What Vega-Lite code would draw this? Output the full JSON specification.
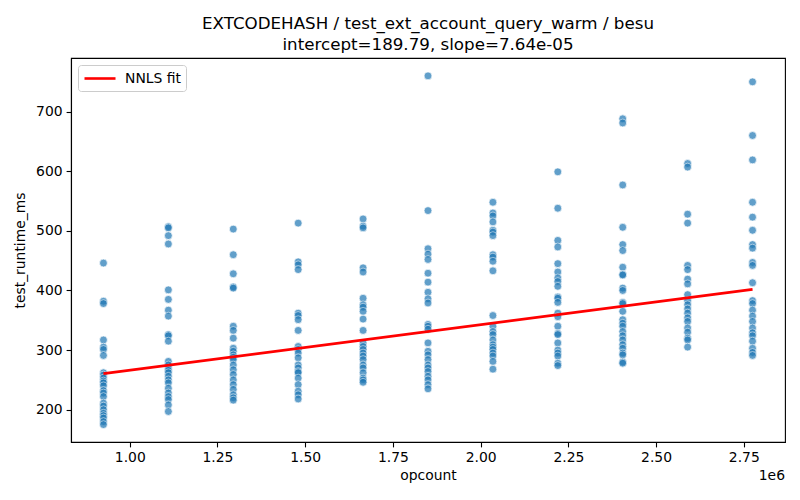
{
  "$schema": "https://vega.github.io/schema/vega-lite/v6.json",
  "description": "EXTCODEHASH runtime against opcount for besu, with the NNLS fit line.",
  "autosize": "none",
  "width": 714,
  "height": 384,
  "padding": {"left": 71, "top": 58, "right": 15, "bottom": 58},
  "background": "white",
  "config": {
    "font": "DejaVu Sans",
    "view": {"stroke": "black", "strokeWidth": 1.1},
    "axis": {
      "grid": false,
      "domainColor": "black",
      "domainWidth": 1.1,
      "tickColor": "black",
      "tickWidth": 1.1,
      "tickSize": 4.9,
      "labelFont": "DejaVu Sans",
      "labelFontSize": 13.9,
      "labelColor": "black",
      "labelPadding": 4,
      "titleFont": "DejaVu Sans",
      "titleFontSize": 13.9,
      "titleFontWeight": "normal",
      "titleColor": "black"
    }
  },
  "title": {
    "text": ["EXTCODEHASH / test_ext_account_query_warm / besu", "intercept=189.79, slope=7.64e-05"],
    "font": "DejaVu Sans",
    "fontSize": 16.7,
    "fontWeight": "normal",
    "color": "black",
    "lineHeight": 21,
    "anchor": "middle",
    "offset": 4
  },
  "datasets": {
    "runs": [
      {"opcount": 925000, "test_runtime_ms": 446}, {"opcount": 925000, "test_runtime_ms": 382}, {"opcount": 925000, "test_runtime_ms": 378},
      {"opcount": 925000, "test_runtime_ms": 317}, {"opcount": 925000, "test_runtime_ms": 305}, {"opcount": 925000, "test_runtime_ms": 301},
      {"opcount": 925000, "test_runtime_ms": 291}, {"opcount": 925000, "test_runtime_ms": 262}, {"opcount": 925000, "test_runtime_ms": 258},
      {"opcount": 925000, "test_runtime_ms": 253}, {"opcount": 925000, "test_runtime_ms": 248}, {"opcount": 925000, "test_runtime_ms": 245},
      {"opcount": 925000, "test_runtime_ms": 240}, {"opcount": 925000, "test_runtime_ms": 232}, {"opcount": 925000, "test_runtime_ms": 228},
      {"opcount": 925000, "test_runtime_ms": 222}, {"opcount": 925000, "test_runtime_ms": 211}, {"opcount": 925000, "test_runtime_ms": 206},
      {"opcount": 925000, "test_runtime_ms": 200}, {"opcount": 925000, "test_runtime_ms": 194}, {"opcount": 925000, "test_runtime_ms": 190},
      {"opcount": 925000, "test_runtime_ms": 186}, {"opcount": 925000, "test_runtime_ms": 180}, {"opcount": 925000, "test_runtime_ms": 175},

      {"opcount": 1110000, "test_runtime_ms": 507}, {"opcount": 1110000, "test_runtime_ms": 505}, {"opcount": 1110000, "test_runtime_ms": 492},
      {"opcount": 1110000, "test_runtime_ms": 478}, {"opcount": 1110000, "test_runtime_ms": 401}, {"opcount": 1110000, "test_runtime_ms": 385},
      {"opcount": 1110000, "test_runtime_ms": 367}, {"opcount": 1110000, "test_runtime_ms": 357}, {"opcount": 1110000, "test_runtime_ms": 326},
      {"opcount": 1110000, "test_runtime_ms": 324}, {"opcount": 1110000, "test_runtime_ms": 315}, {"opcount": 1110000, "test_runtime_ms": 281},
      {"opcount": 1110000, "test_runtime_ms": 275}, {"opcount": 1110000, "test_runtime_ms": 270}, {"opcount": 1110000, "test_runtime_ms": 266},
      {"opcount": 1110000, "test_runtime_ms": 262}, {"opcount": 1110000, "test_runtime_ms": 256}, {"opcount": 1110000, "test_runtime_ms": 250},
      {"opcount": 1110000, "test_runtime_ms": 245}, {"opcount": 1110000, "test_runtime_ms": 236}, {"opcount": 1110000, "test_runtime_ms": 228},
      {"opcount": 1110000, "test_runtime_ms": 222}, {"opcount": 1110000, "test_runtime_ms": 217}, {"opcount": 1110000, "test_runtime_ms": 208},
      {"opcount": 1110000, "test_runtime_ms": 197},

      {"opcount": 1295000, "test_runtime_ms": 503}, {"opcount": 1295000, "test_runtime_ms": 460}, {"opcount": 1295000, "test_runtime_ms": 428},
      {"opcount": 1295000, "test_runtime_ms": 406}, {"opcount": 1295000, "test_runtime_ms": 404}, {"opcount": 1295000, "test_runtime_ms": 340},
      {"opcount": 1295000, "test_runtime_ms": 333}, {"opcount": 1295000, "test_runtime_ms": 320}, {"opcount": 1295000, "test_runtime_ms": 303},
      {"opcount": 1295000, "test_runtime_ms": 298}, {"opcount": 1295000, "test_runtime_ms": 292}, {"opcount": 1295000, "test_runtime_ms": 288},
      {"opcount": 1295000, "test_runtime_ms": 284}, {"opcount": 1295000, "test_runtime_ms": 275}, {"opcount": 1295000, "test_runtime_ms": 267},
      {"opcount": 1295000, "test_runtime_ms": 259}, {"opcount": 1295000, "test_runtime_ms": 250}, {"opcount": 1295000, "test_runtime_ms": 242},
      {"opcount": 1295000, "test_runtime_ms": 234}, {"opcount": 1295000, "test_runtime_ms": 225}, {"opcount": 1295000, "test_runtime_ms": 220},
      {"opcount": 1295000, "test_runtime_ms": 216},

      {"opcount": 1480000, "test_runtime_ms": 513}, {"opcount": 1480000, "test_runtime_ms": 448}, {"opcount": 1480000, "test_runtime_ms": 443},
      {"opcount": 1480000, "test_runtime_ms": 435}, {"opcount": 1480000, "test_runtime_ms": 362}, {"opcount": 1480000, "test_runtime_ms": 358},
      {"opcount": 1480000, "test_runtime_ms": 351}, {"opcount": 1480000, "test_runtime_ms": 333}, {"opcount": 1480000, "test_runtime_ms": 306},
      {"opcount": 1480000, "test_runtime_ms": 301}, {"opcount": 1480000, "test_runtime_ms": 295}, {"opcount": 1480000, "test_runtime_ms": 287},
      {"opcount": 1480000, "test_runtime_ms": 275}, {"opcount": 1480000, "test_runtime_ms": 270}, {"opcount": 1480000, "test_runtime_ms": 264},
      {"opcount": 1480000, "test_runtime_ms": 262}, {"opcount": 1480000, "test_runtime_ms": 253}, {"opcount": 1480000, "test_runtime_ms": 242},
      {"opcount": 1480000, "test_runtime_ms": 231}, {"opcount": 1480000, "test_runtime_ms": 225}, {"opcount": 1480000, "test_runtime_ms": 218},

      {"opcount": 1665000, "test_runtime_ms": 520}, {"opcount": 1665000, "test_runtime_ms": 508}, {"opcount": 1665000, "test_runtime_ms": 505},
      {"opcount": 1665000, "test_runtime_ms": 438}, {"opcount": 1665000, "test_runtime_ms": 431}, {"opcount": 1665000, "test_runtime_ms": 387},
      {"opcount": 1665000, "test_runtime_ms": 376}, {"opcount": 1665000, "test_runtime_ms": 372}, {"opcount": 1665000, "test_runtime_ms": 365},
      {"opcount": 1665000, "test_runtime_ms": 352}, {"opcount": 1665000, "test_runtime_ms": 333}, {"opcount": 1665000, "test_runtime_ms": 312},
      {"opcount": 1665000, "test_runtime_ms": 306}, {"opcount": 1665000, "test_runtime_ms": 301}, {"opcount": 1665000, "test_runtime_ms": 295},
      {"opcount": 1665000, "test_runtime_ms": 290}, {"opcount": 1665000, "test_runtime_ms": 284}, {"opcount": 1665000, "test_runtime_ms": 275},
      {"opcount": 1665000, "test_runtime_ms": 270}, {"opcount": 1665000, "test_runtime_ms": 262}, {"opcount": 1665000, "test_runtime_ms": 253},
      {"opcount": 1665000, "test_runtime_ms": 250}, {"opcount": 1665000, "test_runtime_ms": 246},

      {"opcount": 1850000, "test_runtime_ms": 760}, {"opcount": 1850000, "test_runtime_ms": 534}, {"opcount": 1850000, "test_runtime_ms": 470},
      {"opcount": 1850000, "test_runtime_ms": 461}, {"opcount": 1850000, "test_runtime_ms": 452}, {"opcount": 1850000, "test_runtime_ms": 429},
      {"opcount": 1850000, "test_runtime_ms": 414}, {"opcount": 1850000, "test_runtime_ms": 397}, {"opcount": 1850000, "test_runtime_ms": 386},
      {"opcount": 1850000, "test_runtime_ms": 379}, {"opcount": 1850000, "test_runtime_ms": 343}, {"opcount": 1850000, "test_runtime_ms": 340},
      {"opcount": 1850000, "test_runtime_ms": 335}, {"opcount": 1850000, "test_runtime_ms": 312}, {"opcount": 1850000, "test_runtime_ms": 298},
      {"opcount": 1850000, "test_runtime_ms": 292}, {"opcount": 1850000, "test_runtime_ms": 284}, {"opcount": 1850000, "test_runtime_ms": 275},
      {"opcount": 1850000, "test_runtime_ms": 270}, {"opcount": 1850000, "test_runtime_ms": 264}, {"opcount": 1850000, "test_runtime_ms": 256},
      {"opcount": 1850000, "test_runtime_ms": 250}, {"opcount": 1850000, "test_runtime_ms": 242}, {"opcount": 1850000, "test_runtime_ms": 235},

      {"opcount": 2035000, "test_runtime_ms": 548}, {"opcount": 2035000, "test_runtime_ms": 530}, {"opcount": 2035000, "test_runtime_ms": 525},
      {"opcount": 2035000, "test_runtime_ms": 515}, {"opcount": 2035000, "test_runtime_ms": 501}, {"opcount": 2035000, "test_runtime_ms": 498},
      {"opcount": 2035000, "test_runtime_ms": 492}, {"opcount": 2035000, "test_runtime_ms": 460}, {"opcount": 2035000, "test_runtime_ms": 456},
      {"opcount": 2035000, "test_runtime_ms": 449}, {"opcount": 2035000, "test_runtime_ms": 433}, {"opcount": 2035000, "test_runtime_ms": 358},
      {"opcount": 2035000, "test_runtime_ms": 340}, {"opcount": 2035000, "test_runtime_ms": 331}, {"opcount": 2035000, "test_runtime_ms": 326},
      {"opcount": 2035000, "test_runtime_ms": 317}, {"opcount": 2035000, "test_runtime_ms": 309}, {"opcount": 2035000, "test_runtime_ms": 305},
      {"opcount": 2035000, "test_runtime_ms": 301}, {"opcount": 2035000, "test_runtime_ms": 295}, {"opcount": 2035000, "test_runtime_ms": 290},
      {"opcount": 2035000, "test_runtime_ms": 281}, {"opcount": 2035000, "test_runtime_ms": 268},

      {"opcount": 2220000, "test_runtime_ms": 599}, {"opcount": 2220000, "test_runtime_ms": 538}, {"opcount": 2220000, "test_runtime_ms": 484},
      {"opcount": 2220000, "test_runtime_ms": 473}, {"opcount": 2220000, "test_runtime_ms": 445}, {"opcount": 2220000, "test_runtime_ms": 431},
      {"opcount": 2220000, "test_runtime_ms": 421}, {"opcount": 2220000, "test_runtime_ms": 415}, {"opcount": 2220000, "test_runtime_ms": 407},
      {"opcount": 2220000, "test_runtime_ms": 389}, {"opcount": 2220000, "test_runtime_ms": 387}, {"opcount": 2220000, "test_runtime_ms": 380},
      {"opcount": 2220000, "test_runtime_ms": 362}, {"opcount": 2220000, "test_runtime_ms": 356}, {"opcount": 2220000, "test_runtime_ms": 340},
      {"opcount": 2220000, "test_runtime_ms": 328}, {"opcount": 2220000, "test_runtime_ms": 326}, {"opcount": 2220000, "test_runtime_ms": 312},
      {"opcount": 2220000, "test_runtime_ms": 300}, {"opcount": 2220000, "test_runtime_ms": 295}, {"opcount": 2220000, "test_runtime_ms": 290},
      {"opcount": 2220000, "test_runtime_ms": 278}, {"opcount": 2220000, "test_runtime_ms": 274},

      {"opcount": 2405000, "test_runtime_ms": 688}, {"opcount": 2405000, "test_runtime_ms": 681}, {"opcount": 2405000, "test_runtime_ms": 577},
      {"opcount": 2405000, "test_runtime_ms": 506}, {"opcount": 2405000, "test_runtime_ms": 477}, {"opcount": 2405000, "test_runtime_ms": 467},
      {"opcount": 2405000, "test_runtime_ms": 439}, {"opcount": 2405000, "test_runtime_ms": 427}, {"opcount": 2405000, "test_runtime_ms": 426},
      {"opcount": 2405000, "test_runtime_ms": 404}, {"opcount": 2405000, "test_runtime_ms": 400}, {"opcount": 2405000, "test_runtime_ms": 380},
      {"opcount": 2405000, "test_runtime_ms": 378}, {"opcount": 2405000, "test_runtime_ms": 365}, {"opcount": 2405000, "test_runtime_ms": 351},
      {"opcount": 2405000, "test_runtime_ms": 345}, {"opcount": 2405000, "test_runtime_ms": 340}, {"opcount": 2405000, "test_runtime_ms": 331},
      {"opcount": 2405000, "test_runtime_ms": 324}, {"opcount": 2405000, "test_runtime_ms": 317}, {"opcount": 2405000, "test_runtime_ms": 309},
      {"opcount": 2405000, "test_runtime_ms": 303}, {"opcount": 2405000, "test_runtime_ms": 295}, {"opcount": 2405000, "test_runtime_ms": 292},
      {"opcount": 2405000, "test_runtime_ms": 280}, {"opcount": 2405000, "test_runtime_ms": 278},

      {"opcount": 2590000, "test_runtime_ms": 613}, {"opcount": 2590000, "test_runtime_ms": 607}, {"opcount": 2590000, "test_runtime_ms": 528},
      {"opcount": 2590000, "test_runtime_ms": 513}, {"opcount": 2590000, "test_runtime_ms": 442}, {"opcount": 2590000, "test_runtime_ms": 435},
      {"opcount": 2590000, "test_runtime_ms": 419}, {"opcount": 2590000, "test_runtime_ms": 411}, {"opcount": 2590000, "test_runtime_ms": 393},
      {"opcount": 2590000, "test_runtime_ms": 383}, {"opcount": 2590000, "test_runtime_ms": 376}, {"opcount": 2590000, "test_runtime_ms": 369},
      {"opcount": 2590000, "test_runtime_ms": 362}, {"opcount": 2590000, "test_runtime_ms": 354}, {"opcount": 2590000, "test_runtime_ms": 348},
      {"opcount": 2590000, "test_runtime_ms": 337}, {"opcount": 2590000, "test_runtime_ms": 330}, {"opcount": 2590000, "test_runtime_ms": 320},
      {"opcount": 2590000, "test_runtime_ms": 317}, {"opcount": 2590000, "test_runtime_ms": 305},

      {"opcount": 2775000, "test_runtime_ms": 750}, {"opcount": 2775000, "test_runtime_ms": 660}, {"opcount": 2775000, "test_runtime_ms": 619},
      {"opcount": 2775000, "test_runtime_ms": 548}, {"opcount": 2775000, "test_runtime_ms": 523}, {"opcount": 2775000, "test_runtime_ms": 501},
      {"opcount": 2775000, "test_runtime_ms": 477}, {"opcount": 2775000, "test_runtime_ms": 471}, {"opcount": 2775000, "test_runtime_ms": 447},
      {"opcount": 2775000, "test_runtime_ms": 442}, {"opcount": 2775000, "test_runtime_ms": 413}, {"opcount": 2775000, "test_runtime_ms": 383},
      {"opcount": 2775000, "test_runtime_ms": 378}, {"opcount": 2775000, "test_runtime_ms": 367}, {"opcount": 2775000, "test_runtime_ms": 357},
      {"opcount": 2775000, "test_runtime_ms": 348}, {"opcount": 2775000, "test_runtime_ms": 337}, {"opcount": 2775000, "test_runtime_ms": 329},
      {"opcount": 2775000, "test_runtime_ms": 324}, {"opcount": 2775000, "test_runtime_ms": 315}, {"opcount": 2775000, "test_runtime_ms": 303},
      {"opcount": 2775000, "test_runtime_ms": 296}, {"opcount": 2775000, "test_runtime_ms": 291}
    ],
    "fit": [
      {"opcount": 925000, "test_runtime_ms": 260.5, "series": "NNLS fit"},
      {"opcount": 2775000, "test_runtime_ms": 401.8, "series": "NNLS fit"}
    ]
  },
  "layer": [
    {
      "data": {"name": "runs"},
      "mark": {
        "type": "circle",
        "size": 62,
        "color": "#1f77b4",
        "opacity": 0.7,
        "stroke": "white",
        "strokeWidth": 0.7
      },
      "encoding": {
        "x": {
          "field": "opcount",
          "type": "quantitative",
          "scale": {"domain": [832500, 2867500], "nice": false, "zero": false},
          "axis": {
            "title": "opcount",
            "values": [1000000, 1250000, 1500000, 1750000, 2000000, 2250000, 2500000, 2750000],
            "labelExpr": "format(datum.value / 1000000, '.2f')",
            "titlePadding": 4
          }
        },
        "y": {
          "field": "test_runtime_ms",
          "type": "quantitative",
          "scale": {"domain": [145.8, 790], "nice": false, "zero": false},
          "axis": {
            "title": "test_runtime_ms",
            "values": [200, 300, 400, 500, 600, 700],
            "titlePadding": 8
          }
        }
      }
    },
    {
      "data": {"name": "fit"},
      "mark": {"type": "line", "strokeWidth": 2.6},
      "encoding": {
        "x": {"field": "opcount", "type": "quantitative"},
        "y": {"field": "test_runtime_ms", "type": "quantitative"},
        "color": {
          "field": "series",
          "type": "nominal",
          "scale": {"domain": ["NNLS fit"], "range": ["red"]},
          "legend": {
            "title": null,
            "orient": "top-left",
            "offset": 7,
            "padding": 5,
            "symbolType": "M-1,0H3.43",
            "symbolStrokeWidth": 2.6,
            "symbolSize": 196,
            "labelFont": "DejaVu Sans",
            "labelFontSize": 13.9,
            "labelColor": "black",
            "labelOffset": 25,
            "strokeColor": "#cccccc",
            "fillColor": "rgba(255,255,255,0.8)",
            "cornerRadius": 3
          }
        }
      }
    },
    {
      "data": {"values": [{"label": "1e6"}]},
      "mark": {
        "type": "text",
        "align": "right",
        "baseline": "middle",
        "dy": 34,
        "fontSize": 13.9,
        "font": "DejaVu Sans",
        "color": "black"
      },
      "encoding": {
        "x": {"datum": 2867500, "type": "quantitative"},
        "y": {"datum": 145.8, "type": "quantitative"},
        "text": {"field": "label"}
      }
    }
  ]
}
